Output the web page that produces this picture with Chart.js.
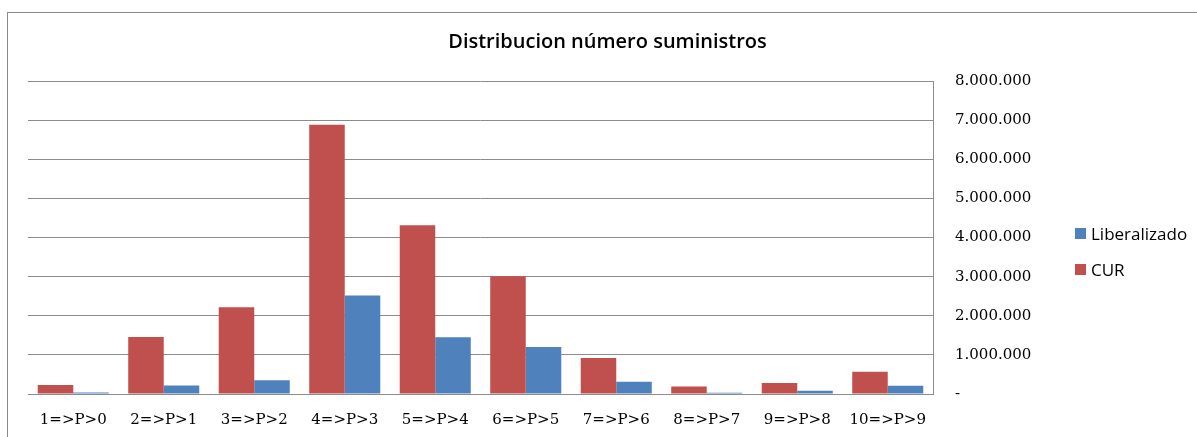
<!DOCTYPE html>
<html>
<head>
<meta charset="utf-8">
<title>Distribucion número suministros</title>
<script src="https://cdn.jsdelivr.net/npm/chart.js@4.4.1/dist/chart.umd.min.js"></script>
<style>
  body { margin: 0; background: #fff; overflow: hidden; }
  #marco { position: absolute; left: 7px; top: 12px; width: 1300px; height: 500px; border: 1px solid #8a8a8a; }
  #grafico { position: absolute; left: 0; top: 0; }
  #leyenda { position: absolute; left: 1075px; top: 225px; font: 17px "Open Sans", sans-serif; color: #000; }
  #leyenda .item { display: flex; align-items: center; height: 17px; margin-bottom: 19px; }
  #leyenda .caja { width: 11px; height: 11px; margin-right: 5px; }
</style>
</head>
<body>
<div id="marco"></div>
<canvas id="grafico" width="1197" height="437"></canvas>
<div id="leyenda"></div>

<script>
// datos
const categorias = ["1=>P>0", "2=>P>1", "3=>P>2", "4=>P>3", "5=>P>4", "6=>P>5", "7=>P>6", "8=>P>7", "9=>P>8", "10=>P>9"];
const cur = [230000, 1460000, 2220000, 6880000, 4310000, 3010000, 920000, 190000, 280000, 570000];
const liberalizado = [40000, 220000, 350000, 2520000, 1450000, 1200000, 310000, 30000, 80000, 210000];
const ejeMax = 8000000;
const ejePaso = 1000000;

const ROJO = "#C0504D";
const AZUL = "#4F81BD";
const GRIS = "#8c8c8c";

function formatoMiles(v) {
  if (v === 0) return "-";
  return String(v).replace(/\B(?=(\d{3})+(?!\d))/g, ".");
}

const ctx = document.getElementById("grafico").getContext("2d");
const grafico = new Chart(ctx, {
  type: "bar",
  data: {
    labels: categorias,
    datasets: [
      { label: "CUR", data: cur, backgroundColor: ROJO },
      { label: "Liberalizado", data: liberalizado, backgroundColor: AZUL }
    ]
  },
  options: {
    responsive: false,
    animation: false,
    layout: { padding: { left: 28, right: 10, top: 0, bottom: 8 } },
    datasets: { bar: { categoryPercentage: 0.785, barPercentage: 1 } },
    plugins: {
      legend: { display: false },
      tooltip: { enabled: false },
      title: {
        display: true,
        text: "Distribucion número suministros",
        color: "#000",
        font: { family: "'Open Sans', sans-serif", size: 20, weight: "600" },
        padding: { top: 30, bottom: 27 }
      }
    },
    scales: {
      x: {
        grid: { display: false, drawTicks: false },
        border: { display: true, color: GRIS, width: 1 },
        ticks: {
          color: "#000",
          padding: 17,
          maxRotation: 0,
          font: { family: "'DejaVu Serif', serif", size: 15 }
        },
        afterFit: (scale) => { scale.height = 35; }
      },
      y: {
        position: "right",
        min: 0,
        max: ejeMax,
        grid: { color: GRIS, drawTicks: false },
        border: { display: true, color: GRIS, width: 1 },
        ticks: {
          stepSize: ejePaso,
          color: "#000",
          padding: 22,
          font: { family: "'DejaVu Serif', serif", size: 15 },
          callback: (v) => formatoMiles(v)
        },
        afterFit: (scale) => { scale.width = 254; }
      }
    }
  }
});

// leyenda en el orden del original (Liberalizado arriba)
const leyenda = document.getElementById("leyenda");
grafico.data.datasets.slice().reverse().forEach(ds => {
  const item = document.createElement("div");
  item.className = "item";
  item.innerHTML = `<span class="caja" style="background:${ds.backgroundColor}"></span><span>${ds.label}</span>`;
  leyenda.appendChild(item);
});
</script>
</body>
</html>
